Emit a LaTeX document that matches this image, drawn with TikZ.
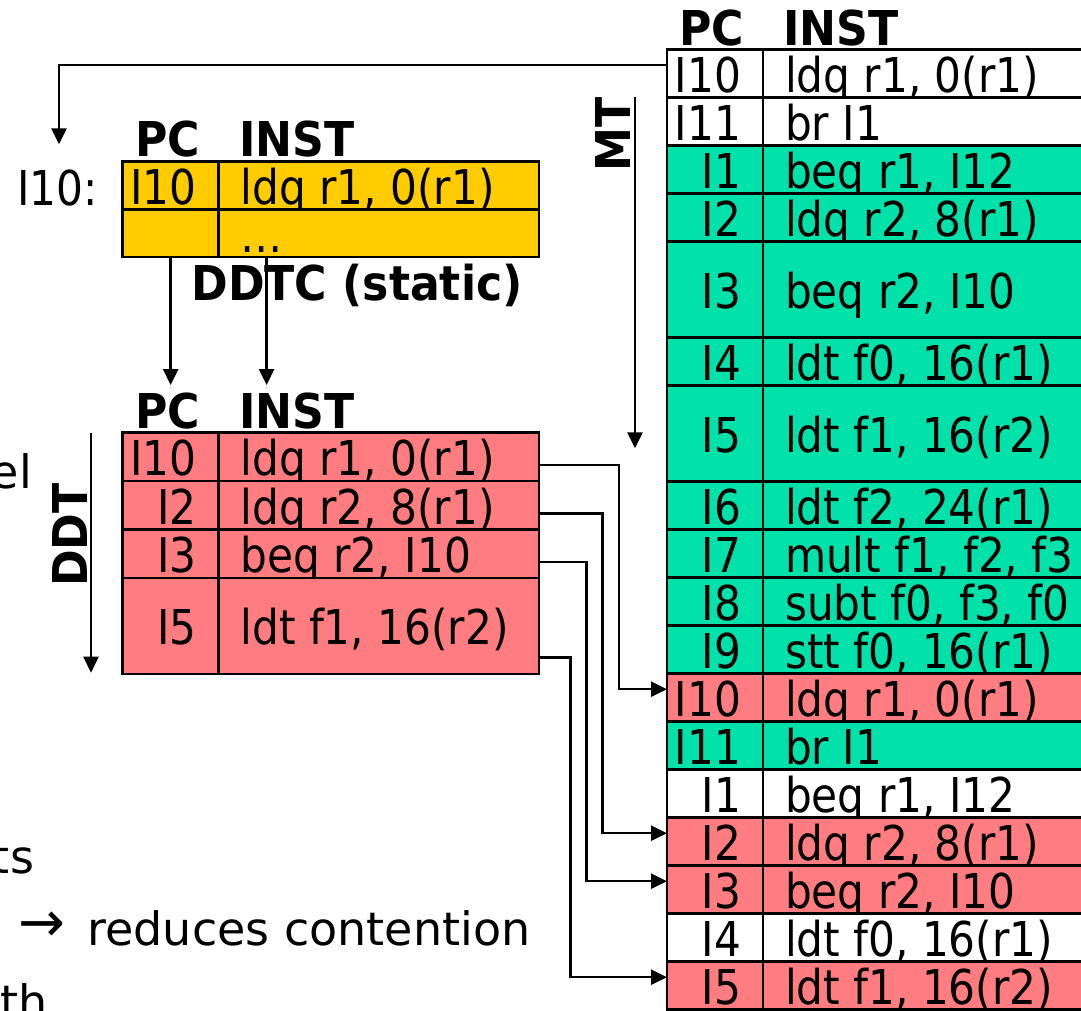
\documentclass[tikz,border=0pt]{standalone}
\usepackage{fontspec}
\usetikzlibrary{arrows.meta,calc}
\newfontfamily\tfont{DejaVu Sans}[FakeStretch=0.88]
\newfontfamily\hfont{DejaVu Sans Bold}[FakeStretch=0.92]
\newfontfamily\pfont{DejaVu Sans}
\definecolor{mtgreen}{RGB}{0,226,170}
\definecolor{ddtpink}{RGB}{255,124,128}
\definecolor{ddtcyellow}{RGB}{255,204,0}
\tikzset{
  cellbox/.style={draw=black, line width=2.5pt, inner sep=0pt, outer sep=0pt, anchor=north west},
  txt/.style={font=\tfont\fontsize{48}{56}\selectfont, inner sep=0pt, outer sep=0pt},
  hdr/.style={font=\hfont\fontsize{48}{56}\selectfont, inner sep=0pt, outer sep=0pt},
  ptxt/.style={font=\pfont\fontsize{46}{54}\selectfont, inner sep=0pt, outer sep=0pt},
  conn/.style={line width=2.5pt, -{Triangle[length=16pt,width=15pt]}},
}
% row of a two-column table: name, top, bottom, fill, PC, INST
\newcommand\trow[6]{%
  \node[cellbox,fill=#4,minimum width={\xd pt-\xl pt},minimum height={#3pt-#2pt}] (#1p) at (\xl,#2) {};
  \node[cellbox,fill=#4,minimum width={\xr pt-\xd pt},minimum height={#3pt-#2pt}] (#1i) at (\xd,#2) {};
  \node[txt,anchor=base east] (#1pt) at ([xshift=-22pt,yshift=-18.8pt]#1p.east) {#5};
  \node[txt,anchor=base west] (#1it) at ([xshift=22pt,yshift=-18.8pt]#1i.west) {#6};
}
\begin{document}
\begin{tikzpicture}[x=1pt,y=-1pt]
\useasboundingbox (0,0) rectangle (1081,1010);
\clip (0,0) rectangle (1081,1010);

% ---------- MT table ----------
\def\xl{667}\def\xd{763}\def\xr{1100}
\node[hdr,anchor=base] (mthpc) at (712,45) {PC};
\node[hdr,anchor=base west] (mthinst) at (783,45) {INST};
\trow{m1}{49.7}{97.7}{white}{I10}{ldq r1, 0(r1)}
\trow{m2}{97.7}{145.7}{white}{I11}{br I1}
\trow{m3}{145.7}{193.7}{mtgreen}{I1}{beq r1, I12}
\trow{m4}{193.7}{241.7}{mtgreen}{I2}{ldq r2, 8(r1)}
\trow{m5}{241.7}{337.7}{mtgreen}{I3}{beq r2, I10}
\trow{m6}{337.7}{385.7}{mtgreen}{I4}{ldt f0, 16(r1)}
\trow{m7}{385.7}{481.7}{mtgreen}{I5}{ldt f1, 16(r2)}
\trow{m8}{481.7}{529.7}{mtgreen}{I6}{ldt f2, 24(r1)}
\trow{m9}{529.7}{577.7}{mtgreen}{I7}{mult f1, f2, f3}
\trow{m10}{577.7}{625.7}{mtgreen}{I8}{subt f0, f3, f0}
\trow{m11}{625.7}{673.7}{mtgreen}{I9}{stt f0, 16(r1)}
\trow{m12}{673.7}{721.7}{ddtpink}{I10}{ldq r1, 0(r1)}
\trow{m13}{721.7}{769.7}{mtgreen}{I11}{br I1}
\trow{m14}{769.7}{817.7}{white}{I1}{beq r1, I12}
\trow{m15}{817.7}{865.7}{ddtpink}{I2}{ldq r2, 8(r1)}
\trow{m16}{865.7}{913.7}{ddtpink}{I3}{beq r2, I10}
\trow{m17}{913.7}{961.7}{white}{I4}{ldt f0, 16(r1)}
\trow{m18}{961.7}{1009.7}{ddtpink}{I5}{ldt f1, 16(r2)}

% ---------- DDTC table ----------
\def\xl{122.7}\def\xd{218.6}\def\xr{538.8}
\node[hdr,anchor=base] (yhpc) at (167.8,156.7) {PC};
\node[hdr,anchor=base west] (yhinst) at (239,156.7) {INST};
\trow{y1}{161.7}{209.7}{ddtcyellow}{I10}{ldq r1, 0(r1)}
\trow{y2}{209.7}{257}{ddtcyellow}{}{…}
\node[txt,anchor=base west] (ilbl) at (17,205) {I10:};
\node[hdr,anchor=base] (ddtc) at (357,300) {DDTC (static)};

% ---------- DDT table ----------
\node[hdr,anchor=base] (dhpc) at (167.8,428.3) {PC};
\node[hdr,anchor=base west] (dhinst) at (239,428.3) {INST};
\trow{d1}{432.7}{481}{ddtpink}{I10}{ldq r1, 0(r1)}
\trow{d2}{481}{529.5}{ddtpink}{I2}{ldq r2, 8(r1)}
\trow{d3}{529.5}{578}{ddtpink}{I3}{beq r2, I10}
\trow{d4}{578}{674}{ddtpink}{I5}{ldt f1, 16(r2)}

% ---------- side labels ----------
\node[hdr,rotate=90,anchor=base] (mtlbl) at (630,134.7) {MT};
\node[hdr,rotate=90,anchor=base] (ddtlbl) at (87.5,535) {DDT};
\coordinate (mtA) at (635,96.7);
\coordinate (mtB) at (635,448.3);
\draw[conn] (mtA) -- (mtB);
\coordinate (ddtA) at (91,432.7);
\coordinate (ddtB) at (91,672.7);
\draw[conn] (ddtA) -- (ddtB);

% ---------- connectors ----------
\coordinate (toptip) at (59,144.3);
\draw[conn] ([yshift=8.5pt]m1p.west) -| (toptip);
\coordinate (ddtin) at (0,385);
\coordinate (y2a) at ([xshift=48pt]y2i.south west);
\draw[conn] (y2p.south) -- (y2p.south |- ddtin);
\draw[conn] (y2a) -- (y2a |- ddtin);
\draw[conn] ([yshift=-8pt]d1i.east) -- ++(80.2,0) |- ([yshift=8.5pt]m12p.west);
\draw[conn] ([yshift=-8pt]d2i.east) -- ++(63.9,0) |- ([yshift=8.5pt]m15p.west);
\draw[conn] ([yshift=-8pt]d3i.east) -- ++(47.9,0) |- ([yshift=8.5pt]m16p.west);
\draw[conn] ([yshift=-31.7pt]d4i.east) -- ++(31.9,0) |- ([yshift=8.5pt]m18p.west);

% ---------- partial slide text ----------
\node[ptxt,anchor=base east] (el) at (32,488.3) {el};
\node[ptxt,anchor=base east] (ts) at (34,873.3) {ts};
\node[ptxt,anchor=center,font=\pfont\fontsize{56}{60}\selectfont] (arr) at (42,926.7) {→};
\node[ptxt,anchor=base west] (red) at (87.5,945) {reduces contention};
\node[ptxt,anchor=base east] (th) at (48,1018) {th};
\end{tikzpicture}
\end{document}
